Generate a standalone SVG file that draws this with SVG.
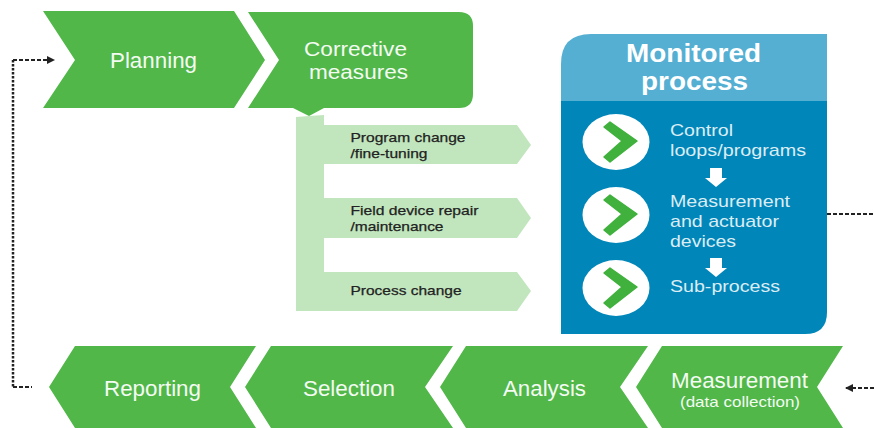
<svg xmlns="http://www.w3.org/2000/svg" xmlns:xlink="http://www.w3.org/1999/xlink" width="874" height="428" viewBox="0 0 874 428">
<style>
text{font-family:"Liberation Sans",Arial,sans-serif}
.g{fill:#50b748}
.lg{fill:#c1e6bd}
.w{fill:#f4fbf3;font-size:22px}
.s{fill:#222;font-size:13px;stroke:#222;stroke-width:.25px}
.b{fill:#dcedf4;font-size:17px}
.t{fill:#fff;font-size:26px;font-weight:bold}
.d{fill:none;stroke:#222;stroke-width:2;stroke-dasharray:4 2}
.v{fill:none;stroke:#222;stroke-width:2.500;stroke-dasharray:2.500 1.500}
.c{fill:#3fb13c;stroke:#3fb13c;stroke-width:1.500;stroke-linejoin:round}
</style>
<defs>
<marker id="ah" markerWidth="9" markerHeight="9" refX="7" refY="4" orient="auto" markerUnits="userSpaceOnUse"><path d="M0 0L8 4L0 8Z" fill="#222"/></marker>
<g id="badge"><ellipse cx="0" cy="0" rx="33.500" ry="28" fill="#fff"/><path class="c" d="M-12-15L-6-20L21-1L-6 20L-12 15L6-1Z"/></g>
<path id="wa" d="M-6 0H6V10H11L0 19L-11 10H-6Z" fill="#fff"/>
</defs>
<rect width="874" height="428" fill="#fff"/>
<g id="connectors">
<path class="d" d="M13 60H54" marker-end="url(#ah)"/>
<path class="v" d="M13 60V387"/>
<path class="d" d="M13 387H32"/>
<path class="d" d="M827 214H874"/>
<path class="d" d="M874 388H846" marker-end="url(#ah)"/>
</g>
<g id="planning"><path class="g" d="M43 11H234L265 60L234 108H43L75 60Z"/><text class="w" x="110" y="68" textLength="87" lengthAdjust="spacingAndGlyphs">Planning</text></g>
<g id="corrective-options">
<path class="lg" d="M296 117L309 116L324 115V125H517L531 145L517 164H324V198H517L531 218L517 238H324V272H517L531 291L517 311H296Z"/>
<text class="s" x="350.500" y="142" textLength="115" lengthAdjust="spacingAndGlyphs">Program change</text>
<text class="s" x="350.500" y="158" textLength="77" lengthAdjust="spacingAndGlyphs">/fine-tuning</text>
<text class="s" x="350.500" y="215" textLength="128" lengthAdjust="spacingAndGlyphs">Field device repair</text>
<text class="s" x="350.500" y="231" textLength="93" lengthAdjust="spacingAndGlyphs">/maintenance</text>
<text class="s" x="350.500" y="295" textLength="111" lengthAdjust="spacingAndGlyphs">Process change</text>
</g>
<g id="corrective"><path class="g" d="M248 12H459Q473 12 473 26V94Q473 108 459 108H324L309 116L293 108H248L279 60Z"/><text class="w" style="font-size:20px" x="304" y="56" textLength="103" lengthAdjust="spacingAndGlyphs">Corrective</text><text class="w" style="font-size:20px" x="309" y="79" textLength="99" lengthAdjust="spacingAndGlyphs">measures</text></g>
<g id="monitored-process">
<path fill="#0086b9" d="M561 100H827V312Q827 334 805 334H561Z"/>
<path fill="#55afd3" d="M561 101V64Q561 34 591 34H827V101Z"/>
<text class="t" x="626" y="62" textLength="135" lengthAdjust="spacingAndGlyphs">Monitored</text>
<text class="t" x="641" y="90" textLength="107" lengthAdjust="spacingAndGlyphs">process</text>
<use xlink:href="#badge" href="#badge" x="616" y="142"/>
<use xlink:href="#badge" href="#badge" x="616" y="215"/>
<use xlink:href="#badge" href="#badge" x="616" y="288"/>
<use xlink:href="#wa" href="#wa" x="716" y="168"/>
<use xlink:href="#wa" href="#wa" x="716" y="258"/>
<text class="b" x="670" y="136" textLength="63" lengthAdjust="spacingAndGlyphs">Control</text>
<text class="b" x="670" y="156" textLength="136" lengthAdjust="spacingAndGlyphs">loops/programs</text>
<text class="b" x="670" y="207" textLength="120" lengthAdjust="spacingAndGlyphs">Measurement</text>
<text class="b" x="670" y="227" textLength="109" lengthAdjust="spacingAndGlyphs">and actuator</text>
<text class="b" x="670" y="247" textLength="66" lengthAdjust="spacingAndGlyphs">devices</text>
<text class="b" x="670" y="292" textLength="110" lengthAdjust="spacingAndGlyphs">Sub-process</text>
</g>
<g id="reporting"><path class="g" d="M49 387L75 346H256L230 387L256 428H75Z"/><text class="w" x="104" y="396" textLength="97" lengthAdjust="spacingAndGlyphs">Reporting</text></g>
<g id="selection"><path class="g" d="M245 387L271 346H453L425 387L453 428H271Z"/><text class="w" x="303" y="396" textLength="92" lengthAdjust="spacingAndGlyphs">Selection</text></g>
<g id="analysis"><path class="g" d="M440 387L466 346H648L620 387L648 428H466Z"/><text class="w" x="503" y="396" textLength="83" lengthAdjust="spacingAndGlyphs">Analysis</text></g>
<g id="measurement"><path class="g" d="M636 387L662 346H843L817 387L843 428H662Z"/><text class="w" x="671" y="388" textLength="137" lengthAdjust="spacingAndGlyphs">Measurement</text><text class="w" style="font-size:14.500px" x="680" y="407" textLength="120" lengthAdjust="spacingAndGlyphs">(data collection)</text></g>
</svg>
